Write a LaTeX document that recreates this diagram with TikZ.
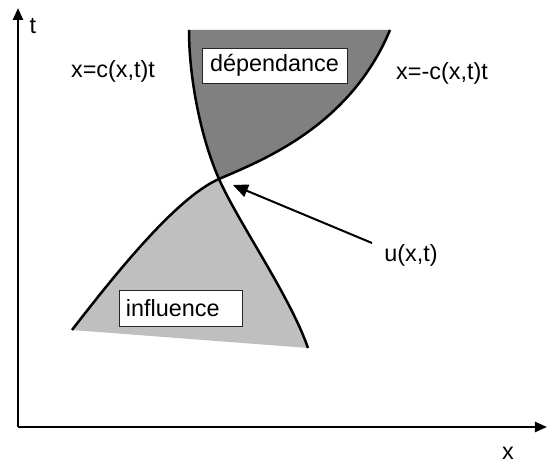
\documentclass[tikz,border=0pt]{standalone}
\usepackage{fontspec}
\setmainfont{Liberation Sans}
\usetikzlibrary{arrows.meta}

\tikzset{
  lbl/.style={font=\fontsize{11.7}{14}\selectfont, inner sep=0pt},
  lblbox/.style={lbl, draw=black!85, line width=0.45pt, fill=white, inner xsep=4pt, minimum height=17.5pt},
  axis/.style={line width=1.2pt, -{Triangle[length=6pt,width=5pt]}},
  curve/.style={line width=1.25pt},
  ptr/.style={line width=1pt, -{Triangle[length=7.5pt,width=6.5pt]}},
  depfill/.style={fill=black!50},
  inffill/.style={fill=black!25}
}

\begin{document}
\begin{tikzpicture}[x=0.5pt,y=0.5pt]
\useasboundingbox (0,0) rectangle (548,466);

%%%%% points of the two characteristics
\coordinate (P) at (219,287);
\coordinate (atop) at (189,436);
\coordinate (abot) at (308,118);
\coordinate (bbot) at (72,136);
\coordinate (btop) at (390,436);

%%%%% shaded regions
\fill[depfill] (atop) .. controls (189,390) and (200,330) .. (P)
  .. controls (263,306) and (350,340) .. (btop) -- cycle;
\fill[inffill] (bbot) .. controls (110,185) and (175,268) .. (P)
  .. controls (238,244) and (290,170) .. (abot) -- cycle;

%%%%% characteristics
\draw[curve] (atop) .. controls (189,390) and (200,330) .. (P)
  .. controls (238,244) and (290,170) .. (abot);
\draw[curve] (bbot) .. controls (110,185) and (175,268) .. (P)
  .. controls (263,306) and (350,340) .. (btop);

%%%%% axes
\coordinate (O) at (18,39);
\coordinate (tend) at (18,458);
\coordinate (xend) at (547,39);
\draw[axis] (O) -- (tend);
\draw[axis] (O) -- (xend);
\node[lbl] (tlab) at (33,440) {t};
\node[lbl] (xlab) at (508,13) {x};

%%%%% labels
\node[lbl] (cplus) at (113,395) {x=c(x,t)t};
\node[lbl] (cminus) at (442,393) {x=-c(x,t)t};
\node[lblbox, minimum width=72.5pt] (dep) at (274.5,400.5) {dépendance};
\node[lblbox, text width=54.5pt, align=left, inner xsep=3.5pt, minimum height=18pt] (inf) at (180.5,158) {influence};
\node[lbl] (u) at (411,211) {u(x,t)};

%%%%% pointer to the point
\coordinate (ustart) at (372,223);
\coordinate (tip) at (233,281);
\draw[ptr] (ustart) -- (tip);
\end{tikzpicture}
\end{document}
